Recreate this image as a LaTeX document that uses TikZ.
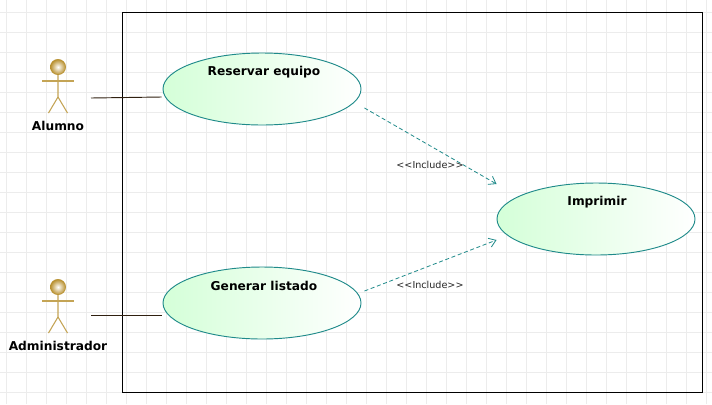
\documentclass[tikz,border=0pt]{standalone}
\usepackage{fontspec}
\setmainfont{DejaVu Sans}
\usetikzlibrary{shapes.geometric,arrows.meta}
\definecolor{gridline}{HTML}{ECECEC}
\definecolor{usecaseline}{HTML}{1F8A8A}
\definecolor{usecasefill}{HTML}{D4FFD8}
\definecolor{actorline}{HTML}{C4A455}
\definecolor{actorball}{HTML}{B8902F}
\tikzset{
  usecase/.style = {ellipse, draw = usecaseline, line width = .7pt, left color = usecasefill, right color = white,
    minimum width = 148.5pt, minimum height = 54pt, inner sep = 0pt},
  title/.style = {font = \bfseries\fontsize{9.15pt}{11pt}\selectfont, text = black, inner sep = 0pt},
  stereo/.style = {font = \fontsize{7.2pt}{8pt}\selectfont, text = black!85, inner sep = 0pt},
  include/.style = {draw = usecaseline, line width = .6pt, densely dashed, -{Straight Barb[length=5pt,width=7pt]}},
  assoc/.style = {draw = black!75!brown, line width = .7pt},
  actor/.style = {draw = actorline, line width = .8pt}
}
\begin{document}
\begin{tikzpicture}[x = .75pt, y = -.75pt]
   \useasboundingbox (0,0) rectangle (712,404);
   \fill[white] (0,0) rectangle (712,404);
   % grid
   \foreach \gx in {6.5,26.5,...,706.5} \draw[gridline, line width = .6pt] (\gx,0) -- (\gx,404);
   \foreach \gy in {12.5,32.5,...,392.5} \draw[gridline, line width = .6pt] (0,\gy) -- (712,\gy);
   % system frame
   \node[draw = black, line width = .75pt, minimum width = 435pt, minimum height = 285pt, inner sep = 0pt, outer sep = 0pt, anchor = north west] (sistema) at (122.5,12.5) {};
   % use cases
   \node[usecase] (reservar) at (262,89) {};
   \node[usecase] (generar) at (262,303) {};
   \node[usecase] (imprimir) at (596,219) {};
   \node[title] (reservarT) at (264,72) {Reservar equipo};
   \node[title] (generarT) at (264,286) {Generar listado};
   \node[title] (imprimirT) at (597,202) {Imprimir};
   % actors
   \foreach \who/\ay/\txt in {alumno/67/Alumno, admin/287/Administrador} {
     \draw[actor] (58,\ay+7) -- (58,\ay+30) -- (48.5,\ay+46);
     \draw[actor] (58,\ay+30) -- (67.5,\ay+46);
     \draw[actor] (42,\ay+14) -- (74,\ay+14);
     \node[circle, minimum size = 11.5pt, inner sep = 0pt, draw = actorball, inner color = white, outer color = actorball] (\who) at (58,\ay) {};
     \node[title] (\who T) at (58,\ay+58.5) {\txt};
   }
   % connectors
   \draw[assoc] ([shift = {(33,31)}]alumno.center) -- ([xshift = -.75pt]reservar.west |- 0,97);
   \draw[assoc] ([shift = {(33,28)}]admin.center) -- ([xshift = -.75pt]generar.west |- 0,315);
   \draw[include] ([shift = {(3,19)}]reservar.east) -- ([shift = {(0,-35)}]imprimir.west);
   \draw[include] ([shift = {(3,-12)}]generar.east) -- ([shift = {(0,21)}]imprimir.west);
   \node[stereo] (includeA) at (430,165) {<{}<Include>{}>};
   \node[stereo] (includeB) at (430,285) {<{}<Include>{}>};
  \end{tikzpicture}
\end{document}
